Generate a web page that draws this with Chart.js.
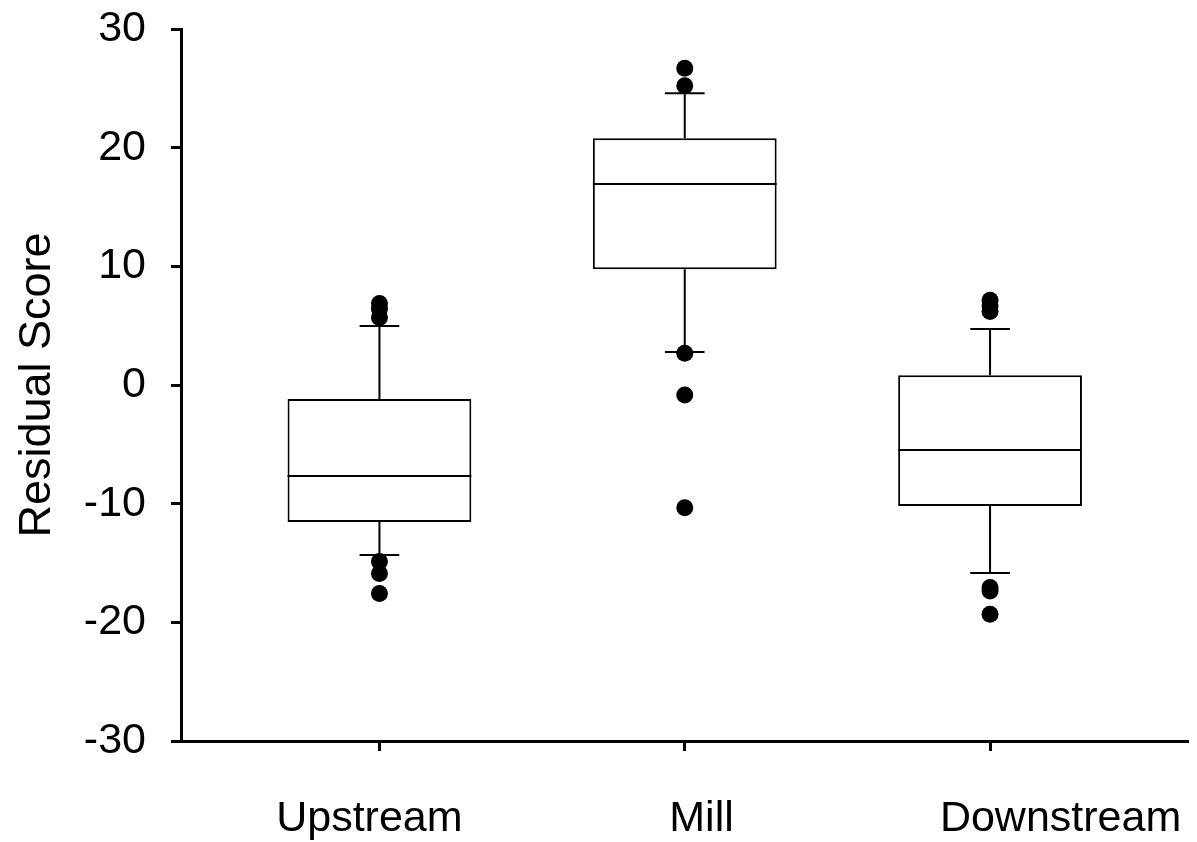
<!DOCTYPE html>
<html>
<head>
<meta charset="utf-8">
<script src="https://cdn.jsdelivr.net/npm/chart.js@4.4.1/dist/chart.umd.min.js"></script>
<style>
  html, body { margin: 0; padding: 0; background: #fff; }
  #wrap { width: 1197px; height: 842px; }
</style>
</head>
<body>
<div id="wrap"><canvas id="boxChart"></canvas></div>
<script>
// Box plot of residual scores per site (built from bar + scatter datasets)
const categories = ['Upstream', 'Mill', 'Downstream'];
const q1 = [-11.54, 9.75, -10.2];
const q3 = [-1.18, 20.79, 0.82];
const medians = [-7.67, 16.94, -5.48];
const whiskerLow = [-14.33, 2.78, -15.84];
const whiskerHigh = [4.97, 24.58, 4.72];
const upstreamOutliers = [6.87, 6.40, 5.69, -14.87, -15.88, -17.57];
const millOutliers = [26.69, 25.22, 2.67, -0.84, -10.34];
const downstreamOutliers = [7.15, 6.67, 6.19, -17.06, -17.36, -19.32];
const yTicks = [-30, -20, -10, 0, 10, 20, 30];

const outlierSets = [upstreamOutliers, millOutliers, downstreamOutliers];
const FONT = "'Liberation Sans', Arial, sans-serif";
const CAP_HALF = 0.065; // whisker cap half width, in x units
const LABEL_SHIFT = [-0.033, 0.055, 0.231]; // category labels sit off their tick marks in the original

const boxes = categories.map((c, i) => ({ x: i + 1, y: [q1[i], q3[i]] }));
const points = [];
outlierSets.forEach((arr, i) => arr.forEach(v => points.push({ x: i + 1, y: v })));

function hline(ctx, x0, x1, y) {
    ctx.beginPath();
    ctx.moveTo(x0, y);
    ctx.lineTo(x1, y);
    ctx.stroke();
}

const boxParts = {
    id: 'boxParts',
    beforeDatasetsDraw(chart) {
        const { ctx, scales: { x, y } } = chart;
        ctx.save();
        ctx.strokeStyle = '#000';
        ctx.lineWidth = 2;
        categories.forEach((c, i) => {
            const cx = x.getPixelForValue(i + 1);
            const l = x.getPixelForValue(i + 1 - CAP_HALF);
            const r = x.getPixelForValue(i + 1 + CAP_HALF);
            ctx.beginPath();
            ctx.moveTo(cx, y.getPixelForValue(q3[i]));
            ctx.lineTo(cx, y.getPixelForValue(whiskerHigh[i]));
            ctx.moveTo(cx, y.getPixelForValue(q1[i]));
            ctx.lineTo(cx, y.getPixelForValue(whiskerLow[i]));
            ctx.stroke();
            hline(ctx, l, r, y.getPixelForValue(whiskerHigh[i]));
            hline(ctx, l, r, y.getPixelForValue(whiskerLow[i]));
        });
        ctx.restore();
    },
    afterDatasetsDraw(chart) {
        const { ctx, scales: { y } } = chart;
        const meta = chart.getDatasetMeta(0);
        ctx.save();
        ctx.strokeStyle = '#000';
        ctx.lineWidth = 2;
        meta.data.forEach((bar, i) => {
            const half = bar.width / 2;
            hline(ctx, bar.x - half, bar.x + half, y.getPixelForValue(medians[i]));
        });
        ctx.restore();
    }
};

new Chart(document.getElementById('boxChart'), {
    type: 'bar',
    data: {
        datasets: [{
            data: boxes,
            backgroundColor: '#fff',
            borderColor: '#000',
            borderWidth: 2,
            borderSkipped: false,
            barPercentage: 0.602,
            categoryPercentage: 1,
            order: 2
        }, {
            type: 'scatter',
            data: points,
            backgroundColor: '#000',
            borderWidth: 0,
            pointRadius: 8.5,
            pointHoverRadius: 8.5,
            order: 1
        }]
    },
    options: {
        responsive: true,
        maintainAspectRatio: false,
        animation: false,
        layout: { padding: { top: 29, right: 2, left: 0, bottom: 0 } },
        plugins: { legend: { display: false }, tooltip: { enabled: false } },
        scales: {
            x: {
                type: 'linear',
                position: 'bottom',
                weight: 0,
                offset: false,
                min: 0.35,
                max: 3.65,
                afterBuildTicks: s => { s.ticks = categories.map((c, i) => ({ value: i + 1 })); },
                afterFit: s => { s.height = 10; s.paddingLeft = 0; s.paddingRight = 0; },
                ticks: { display: false },
                grid: { offset: false, drawOnChartArea: false, drawTicks: true, tickLength: 10, tickWidth: 3, tickColor: '#000' },
                border: { display: true, color: '#000', width: 3 }
            },
            xLabels: {
                type: 'linear',
                axis: 'x',
                position: 'bottom',
                weight: 1,
                offset: false,
                min: 0.35,
                max: 3.65,
                afterBuildTicks: s => { s.ticks = categories.map((c, i) => ({ value: i + 1 + LABEL_SHIFT[i] })); },
                afterFit: s => { s.height = 91; s.paddingLeft = 0; s.paddingRight = 0; },
                ticks: {
                    callback: (v, i) => categories[i],
                    color: '#000',
                    padding: 34,
                    maxRotation: 0,
                    font: { family: FONT, size: 43 }
                },
                grid: { display: false },
                border: { display: false }
            },
            y: {
                min: -30,
                max: 30,
                afterBuildTicks: s => { s.ticks = yTicks.map(v => ({ value: v })); },
                afterFit: s => { s.width = 181; s.paddingTop = 0; s.paddingBottom = 0; },
                ticks: {
                    color: '#000',
                    padding: 25,
                    font: { family: FONT, size: 43 }
                },
                grid: { drawOnChartArea: false, drawTicks: true, tickLength: 10, tickWidth: 3, tickColor: '#000' },
                border: { display: true, color: '#000', width: 3 },
                title: {
                    display: true,
                    text: 'Residual Score',
                    color: '#000',
                    padding: { top: 11, bottom: 0 },
                    font: { family: FONT, size: 45 }
                }
            }
        }
    },
    plugins: [boxParts]
});
</script>
</body>
</html>
